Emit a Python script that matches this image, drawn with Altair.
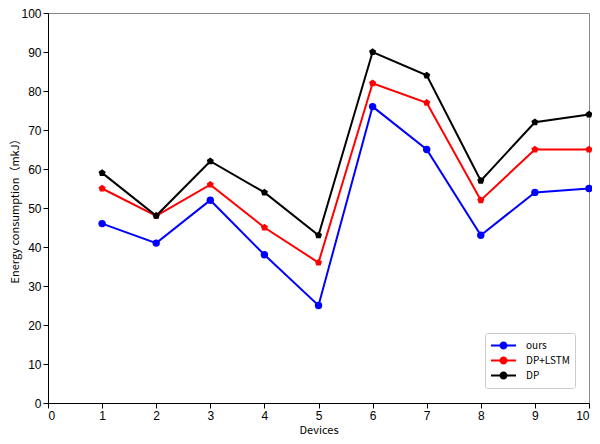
import altair as alt
import pandas as pd

devices = [1, 2, 3, 4, 5, 6, 7, 8, 9, 10]
ours = [46, 41, 52, 38, 25, 76, 65, 43, 54, 55]
dp_lstm = [55, 48, 56, 45, 36, 82, 77, 52, 65, 65]
dp = [59, 48, 62, 54, 43, 90, 84, 57, 72, 74]
series_names = ["ours", "DP+LSTM", "DP"]
series_colors = ["#0000ff", "#ff0000", "#000000"]

rows = []
for name, vals in zip(series_names, [ours, dp_lstm, dp]):
    for d, v in zip(devices, vals):
        rows.append({"Devices": d, "value": v, "series": name, "marker": name})
df = pd.DataFrame(rows)

pentagon = "M0,-1L0.951,-0.309L0.588,0.809L-0.588,0.809L-0.951,-0.309Z"


def ring(r):
    return f"M-{r},0A{r},{r} 0 1,0 {r},0A{r},{r} 0 1,0 -{r},0Z"


# line with a filled marker drawn as concentric rings (stroke only)
legend_sym = "M-2,0L2,0" + "".join(ring(r) for r in [0.48, 0.32, 0.16, 0.04])

x = alt.X("Devices:Q", title="Devices",
          scale=alt.Scale(domain=[0, 10], nice=False),
          axis=alt.Axis(values=list(range(0, 11)), format="d", grid=False,
                        labelFont="Liberation Sans", labelFontSize=12,
                        titleFont="Noto Sans CJK SC", titleFontSize=11,
                        titleFontWeight="normal", titlePadding=3,
                        domainColor="#000", tickColor="#000", tickSize=5,
                        labelColor="#000", titleColor="#000"))
y = alt.Y("value:Q", title="Energy consumption（mkJ）",
          scale=alt.Scale(domain=[0, 100], nice=False),
          axis=alt.Axis(values=list(range(0, 101, 10)), grid=False,
                        labelFont="Liberation Sans", labelFontSize=12,
                        titleFont="Noto Sans CJK SC", titleFontSize=11,
                        titleFontWeight="normal", titlePadding=0,
                        domainColor="#000", tickColor="#000", tickSize=5,
                        labelColor="#000", titleColor="#000"))

color_scale = alt.Scale(domain=series_names, range=series_colors)

lines = alt.Chart(df).mark_line(strokeWidth=2).encode(
    x=x, y=y,
    color=alt.Color("series:N", scale=color_scale, sort=series_names,
                    legend=alt.Legend(title=None, orient="none", legendX=437, legendY=320,
                                      symbolType=legend_sym, symbolSize=156,
                                      symbolStrokeWidth=2, symbolOffset=6,
                                      labelOffset=15, rowPadding=0,
                                      labelFont="Noto Sans CJK SC", labelFontSize=10,
                                      labelColor="#000",
                                      strokeColor="#ccc", fillColor="white",
                                      padding=5, cornerRadius=2)),
)

points = alt.Chart(df).mark_point(filled=True, opacity=1, size=55).encode(
    x=x, y=y,
    color=alt.Color("series:N", scale=color_scale, legend=None),
    shape=alt.Shape("marker:N", scale=alt.Scale(domain=series_names,
                                                 range=["circle", pentagon, pentagon]),
                    legend=None),
)

chart = alt.layer(lines, points).resolve_legend(
    color="independent", shape="independent"
).properties(
    width=541, height=390,
    autosize=alt.AutoSizeParams(type="none"),
    padding={"left": 40, "top": 5, "right": 3, "bottom": 33},
).configure_view(stroke="#888", strokeWidth=1)

chart.save("out.html", embed_options={"renderer": "svg", "actions": False})
